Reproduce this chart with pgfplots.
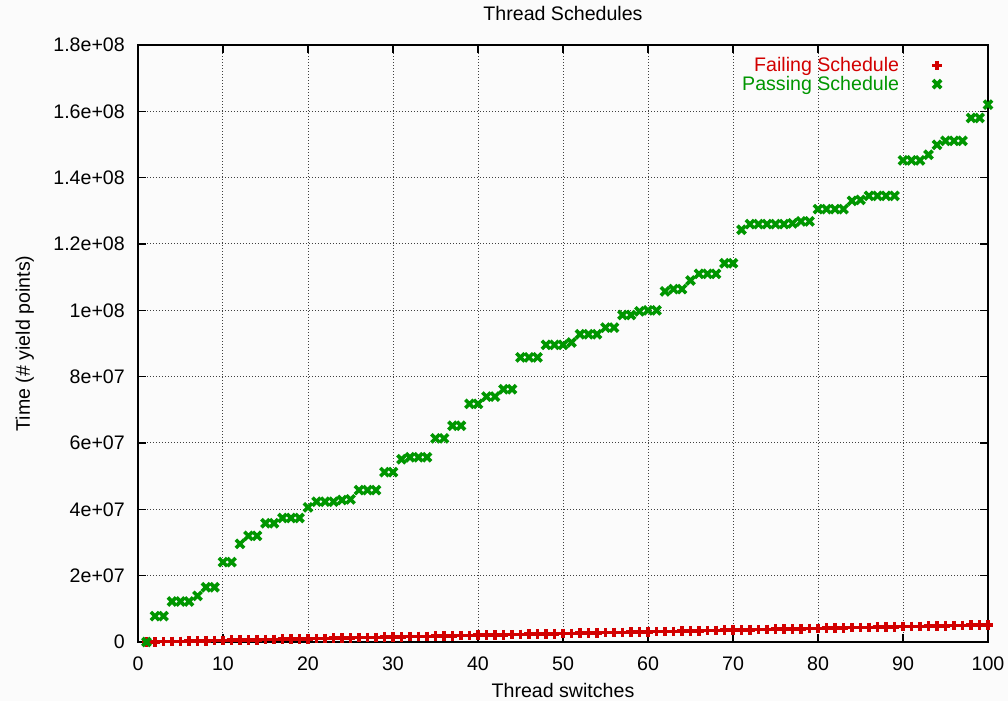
\documentclass[border=0pt]{standalone}
\usepackage{fontspec}
\setmainfont{Liberation Sans}
\usepackage{pgfplots}
\pgfplotsset{compat=1.18}
\definecolor{cred}{RGB}{210,0,0}
\definecolor{cgreen}{RGB}{0,150,0}
\definecolor{bg}{RGB}{251,251,251}
\newcommand\ff{\fontsize{19.6bp}{23bp}\selectfont}
\begin{document}
\begin{tikzpicture}
\useasboundingbox[fill=bg] (-138bp,-59bp) rectangle (870bp,642bp);
\begin{axis}[
  at={(0,0)}, anchor=south west,
  scale only axis, width=850bp, height=597bp,
  xmin=0, xmax=100, ymin=0, ymax=1.8e8,
  clip=false,
  axis line style={line width=1.5bp},
  tick style={line width=1.2bp, black},
  major tick length=8bp,
  tick align=inside,
  xtick={0,10,...,100},
  xticklabels={0,10,20,30,40,50,60,70,80,90,100},
  ytick={0,2e7,4e7,6e7,8e7,1e8,1.2e8,1.4e8,1.6e8,1.8e8},
  yticklabels={0,2e+07,4e+07,6e+07,8e+07,1e+08,1.2e+08,1.4e+08,1.6e+08,1.8e+08},
  scaled y ticks=false,
  xticklabel style={font=\ff, inner sep=0pt, anchor=north, yshift=-15bp},
  yticklabel style={font=\ff, inner sep=0pt, anchor=east, xshift=-13bp},
  grid=major,
  major grid style={line width=1bp, black!75, dash pattern=on 1bp off 2bp},
  every axis title shift=0pt,
  title={Thread Schedules},
  title style={font=\ff, at={(axis description cs:0.5,1.0402)}, anchor=base, inner sep=0pt},
  xlabel={Thread switches},
  xlabel style={font=\ff, at={(axis description cs:0.5,-0.0938)}, anchor=base, inner sep=0pt},
  ylabel={Time (\# yield points)},
  ylabel style={font=\ff, at={(axis description cs:-0.1271,0.5)}, anchor=base, rotate=0, inner sep=0pt},
  legend plot pos=right,
  legend cell align=right,
  legend image code/.code={\path[draw=none,fill=none] (0,0) -- (40bp,0); \draw[#1] plot coordinates {(38bp,0bp)};},
  legend style={draw=none, fill=none, font=\ff, at={(axis description cs:0.946,0.9793)}, anchor=north east, inner sep=0pt, row sep=3bp, nodes={inner sep=0pt}},
]
\addplot[only marks, mark=+, color=cred, mark size=4.8bp, line width=3.6bp, mark options={line width=3.6bp}] table {
1 0
2 52000
3 104000
4 156000
5 208000
6 260000
7 312000
8 364000
9 416000
10 468000
11 520000
12 572000
13 624000
14 676000
15 728000
16 780000
17 832000
18 884000
19 936000
20 988000
21 1040000
22 1092000
23 1144000
24 1196000
25 1248000
26 1300000
27 1352000
28 1404000
29 1456000
30 1508000
31 1560000
32 1612000
33 1664000
34 1716000
35 1768000
36 1820000
37 1872000
38 1924000
39 1976000
40 2028000
41 2080000
42 2132000
43 2184000
44 2236000
45 2288000
46 2340000
47 2392000
48 2444000
49 2496000
50 2548000
51 2600000
52 2652000
53 2704000
54 2756000
55 2808000
56 2860000
57 2912000
58 2964000
59 3016000
60 3068000
61 3120000
62 3172000
63 3224000
64 3276000
65 3328000
66 3380000
67 3432000
68 3484000
69 3536000
70 3588000
71 3640000
72 3692000
73 3744000
74 3796000
75 3848000
76 3900000
77 3952000
78 4004000
79 4056000
80 4108000
81 4160000
82 4212000
83 4264000
84 4316000
85 4368000
86 4420000
87 4472000
88 4524000
89 4576000
90 4628000
91 4680000
92 4732000
93 4784000
94 4836000
95 4888000
96 4940000
97 4992000
98 5044000
99 5096000
100 5148000
};
\addlegendentry{\textcolor{cred}{Failing Schedule}}
\addplot[only marks, mark=x, color=cgreen, mark size=5.8bp, line width=3.6bp, mark options={line width=3.6bp}] table {
1 0
2 7800000
3 7800000
4 12200000
5 12200000
6 12200000
7 13900000
8 16500000
9 16500000
10 24100000
11 24100000
12 29600000
13 32000000
14 32000000
15 35800000
16 35800000
17 37400000
18 37400000
19 37400000
20 40600000
21 42300000
22 42300000
23 42300000
24 42800000
25 43000000
26 45800000
27 45800000
28 45800000
29 51200000
30 51200000
31 55100000
32 55700000
33 55700000
34 55700000
35 61400000
36 61400000
37 65200000
38 65200000
39 71800000
40 71800000
41 74000000
42 74000000
43 76200000
44 76200000
45 85800000
46 85800000
47 85800000
48 89600000
49 89600000
50 89600000
51 90300000
52 92800000
53 92800000
54 92800000
55 94800000
56 94800000
57 98600000
58 98600000
59 99700000
60 100000000
61 100000000
62 105700000
63 106400000
64 106400000
65 109000000
66 111000000
67 111000000
68 111000000
69 114200000
70 114200000
71 124300000
72 126000000
73 126000000
74 126000000
75 126000000
76 126000000
77 126200000
78 126800000
79 126800000
80 130500000
81 130500000
82 130500000
83 130500000
84 133000000
85 133300000
86 134500000
87 134500000
88 134500000
89 134500000
90 145200000
91 145200000
92 145200000
93 146900000
94 149900000
95 151100000
96 151100000
97 151100000
98 158000000
99 158000000
100 162000000
};
\addlegendentry{\textcolor{cgreen}{Passing Schedule}}
\end{axis}
\end{tikzpicture}
\end{document}
